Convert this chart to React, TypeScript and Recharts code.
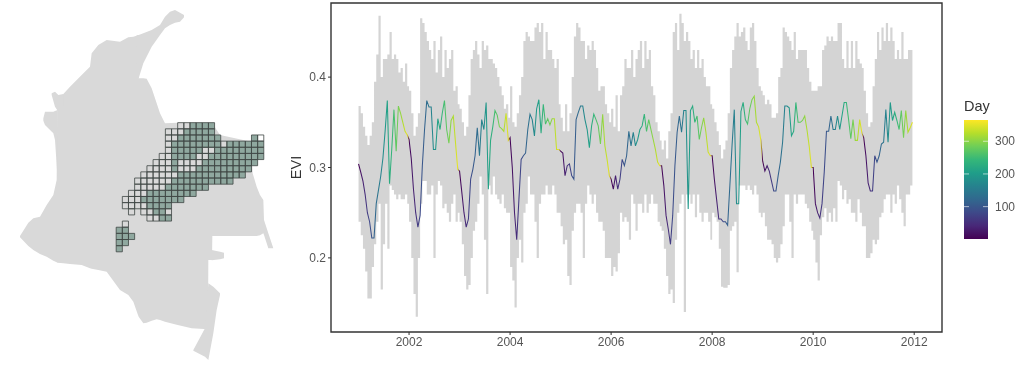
import React from "react";
import { ComposedChart, Area, Line, XAxis, YAxis, ReferenceArea } from "recharts";

// ---------- time series: 16-day composites per year ----------
const years = [2001, 2002, 2003, 2004, 2005, 2006, 2007, 2008, 2009, 2010, 2011];

const evi2001 = [.304,.295,.285,.27,.25,.24,.222,.222,.26,.275,.29,.31,.34,.374,.282,.32,.364,.318,.368,.36,.35,.34,.336];
const evi2002 = [.331,.31,.276,.25,.234,.247,.302,.342,.374,.367,.367,.32,.32,.354,.342,.36,.374,.342,.327,.352,.357,.327,.298];
const evi2003 = [.296,.273,.25,.234,.243,.287,.298,.313,.344,.313,.353,.342,.372,.276,.33,.345,.363,.358,.345,.343,.34,.36,.33];
const evi2004 = [.333,.30,.25,.22,.265,.309,.313,.316,.342,.359,.353,.335,.365,.375,.338,.37,.348,.354,.347,.354,.354,.32,.32];
const evi2005 = [.318,.316,.291,.302,.304,.291,.287,.353,.361,.368,.368,.353,.342,.322,.346,.359,.353,.346,.326,.359,.324,.309,.291];
const evi2006 = [.287,.276,.291,.276,.287,.309,.302,.313,.34,.324,.339,.324,.331,.342,.346,.359,.34,.353,.342,.331,.32,.306,.302];
const evi2007 = [.302,.28,.247,.232,.215,.247,.302,.339,.357,.339,.363,.363,.254,.363,.368,.35,.357,.331,.344,.355,.339,.317,.313];
const evi2008 = [.313,.287,.265,.243,.243,.24,.24,.236,.28,.325,.364,.26,.26,.362,.372,.353,.348,.365,.375,.379,.35,.345,.33];
const evi2009 = [.307,.296,.302,.296,.285,.274,.274,.291,.306,.328,.368,.368,.366,.335,.34,.372,.35,.35,.352,.357,.342,.324,.30];
const evi2010 = [.30,.26,.25,.244,.26,.295,.34,.34,.357,.342,.342,.357,.342,.357,.372,.372,.353,.332,.353,.33,.33,.353,.338];
const evi2011 = [.333,.313,.283,.274,.274,.313,.306,.313,.326,.328,.364,.328,.372,.352,.361,.352,.342,.363,.333,.363,.339,.344,.35];

const top2001 = [.368,.36,.345,.335,.325,.335,.35,.395,.425,.468,.4,.42,.42,.425,.45,.42,.425,.42,.405,.41,.395,.415,.39];
const top2002 = [.385,.36,.335,.345,.36,.465,.46,.45,.44,.43,.42,.44,.405,.43,.445,.40,.43,.41,.42,.43,.385,.39,.37];
const top2003 = [.365,.35,.335,.345,.38,.42,.43,.44,.425,.41,.44,.43,.435,.42,.42,.415,.41,.40,.39,.38,.365,.37,.355];
const top2004 = [.39,.35,.345,.36,.38,.40,.44,.45,.445,.44,.44,.455,.46,.45,.46,.42,.45,.43,.43,.42,.41,.42,.37];
const top2005 = [.355,.34,.37,.34,.36,.40,.445,.46,.455,.44,.44,.42,.435,.43,.44,.43,.41,.385,.39,.39,.37,.36,.35];
const top2006 = [.365,.345,.38,.34,.38,.39,.42,.41,.41,.43,.40,.42,.43,.44,.41,.44,.42,.43,.39,.38,.35,.34,.33];
const top2007 = [.32,.33,.31,.34,.36,.45,.46,.43,.47,.46,.44,.45,.44,.42,.43,.41,.43,.41,.42,.40,.39,.39,.37];
const top2008 = [.365,.35,.34,.325,.31,.32,.33,.36,.41,.43,.445,.46,.445,.45,.455,.44,.43,.455,.46,.44,.41,.39,.385];
const top2009 = [.38,.37,.375,.37,.355,.355,.36,.40,.41,.455,.45,.445,.44,.43,.45,.42,.43,.43,.43,.43,.41,.395,.385];
const top2010 = [.385,.385,.39,.39,.43,.435,.445,.44,.445,.44,.44,.46,.46,.42,.41,.44,.41,.44,.41,.44,.42,.415,.41];
const top2011 = [.385,.36,.345,.35,.39,.42,.45,.43,.455,.44,.46,.44,.455,.44,.42,.43,.42,.45,.42,.42,.43,.43,.41];

const low2001 = [.24,.225,.21,.185,.155,.155,.19,.215,.24,.26,.165,.215,.26,.21,.28,.275,.27,.265,.27,.265,.265,.27,.26];
const low2002 = [.24,.2,.16,.135,.2,.26,.285,.285,.27,.27,.28,.2,.27,.285,.28,.255,.26,.25,.24,.26,.27,.24,.25];
const low2003 = [.24,.215,.18,.165,.17,.2,.23,.24,.26,.29,.27,.22,.16,.28,.27,.29,.27,.265,.26,.27,.255,.25,.25];
const low2004 = [.19,.175,.145,.20,.22,.195,.25,.26,.29,.27,.27,.24,.20,.26,.27,.27,.28,.27,.27,.28,.27,.25,.25];
const low2005 = [.235,.215,.22,.18,.17,.23,.25,.26,.26,.25,.2,.26,.28,.27,.26,.27,.25,.24,.24,.23,.2,.2,.2];
const low2006 = [.18,.19,.185,.205,.25,.24,.245,.24,.22,.27,.26,.23,.26,.26,.25,.27,.25,.26,.27,.26,.26,.24,.235];
const low2007 = [.23,.21,.18,.16,.165,.15,.22,.25,.26,.27,.14,.27,.27,.26,.27,.245,.27,.25,.24,.25,.25,.24,.22];
const low2008 = [.25,.245,.24,.21,.168,.167,.167,.17,.23,.235,.24,.184,.28,.28,.28,.275,.28,.275,.27,.28,.27,.25,.245];
const low2009 = [.25,.235,.22,.22,.215,.2,.195,.2,.215,.235,.27,.27,.24,.20,.27,.26,.27,.27,.27,.26,.255,.24,.23];
const low2010 = [.22,.195,.175,.225,.245,.255,.24,.25,.24,.255,.24,.285,.28,.265,.275,.26,.265,.25,.25,.24,.265,.25,.235];
const low2011 = [.235,.2,.2,.205,.22,.215,.22,.245,.25,.265,.27,.27,.25,.27,.26,.28,.265,.25,.235,.27,.27,.28,.275];

const eviByYear = [evi2001, evi2002, evi2003, evi2004, evi2005, evi2006, evi2007, evi2008, evi2009, evi2010, evi2011];
const topByYear = [top2001, top2002, top2003, top2004, top2005, top2006, top2007, top2008, top2009, top2010, top2011];
const lowByYear = [low2001, low2002, low2003, low2004, low2005, low2006, low2007, low2008, low2009, low2010, low2011];

const xTicks = [2002, 2004, 2006, 2008, 2010, 2012];
const yTicks = [0.2, 0.3, 0.4];
const legendTicks = [100, 200, 300];

const viridis = ["#440154","#482878","#3e4989","#31688e","#26828e","#1f9e89","#35b779","#6ece58","#b5de2b","#fde725"];

function hexToRgb(h: string) {
  return [1, 3, 5].map((i) => parseInt(h.slice(i, i + 2), 16));
}
function dayColor(day: number) {
  const f = Math.max(0, Math.min(1, (day - 1) / 364)) * (viridis.length - 1);
  const i = Math.min(viridis.length - 2, Math.floor(f));
  const a = hexToRgb(viridis[i]);
  const b = hexToRgb(viridis[i + 1]);
  const c = a.map((v, k) => Math.round(v + (b[k] - v) * (f - i)));
  return `rgb(${c[0]},${c[1]},${c[2]})`;
}

const rows = years.flatMap((year, y) =>
  eviByYear[y].map((evi, i) => {
    const day = 1 + 16 * i;
    return { t: year + (day - 1) / 365, day, evi, band: [lowByYear[y][i], topByYear[y][i]] };
  })
);
const tMin = rows[0].t;
const tMax = rows[rows.length - 1].t;

// ---------- map: projected outline, one north/south edge per easting ----------
type Part = { e: number[]; n: number[]; s: number[] };
const mainland: Part = {
  e: [60,85,100,120,140,160,170,172,190,210,245,270,275,295,320,360,385,400,414,416,430,440,455,470,480,495,533,575,624,625,636,637,660,754,758,770,780,790,792,805,820],
  n: [708,668,655,650,615,585,540,300,282,260,225,200,160,135,120,125,112,110,106,235,235,236,265,310,340,370,368,368,370,370,370,370,405,425,520,560,585,600,660,700,745],
  s: [712,738,750,762,770,782,787,788,790,792,795,805,806,810,815,870,885,905,945,950,970,968,962,958,960,965,975,985,988,780,780,708,708,708,708,708,706,700,705,745,745],
};
const guajira: Part = {
  e: [410,416,430,455,480,495,510,525,540,552],
  n: [106,105,100,90,75,50,35,30,38,45],
  s: [235,235,190,140,105,85,75,68,65,52],
};
const chocoNorth: Part = {
  e: [130,135,160,165,173],
  n: [355,335,335,333,330],
  s: [362,375,400,420,540],
};
const uraba: Part = {
  e: [155,165,175,190],
  n: [280,275,285,282],
  s: [285,320,335,320],
};
const vaupes: Part = {
  e: [635,660,672],
  n: [750,755,758],
  s: [781,778,775],
};
const amazonTail: Part = {
  e: [580,615,625,640,650,660],
  n: [1050,985,850,860,870,880],
  s: [1052,1070,1080,1000,930,885],
};
const mapParts = [mainland, guajira, chocoNorth, uraba, vaupes, amazonTail];

// grid cells: [row, first column, last column]
const greenRuns = [
  [0,11,14],[1,10,14],[2,9,15],[2,21,21],[3,8,15],[3,17,22],[4,8,12],[4,15,22],[5,8,11],[5,14,22],
  [6,8,8],[6,13,21],[7,8,8],[7,12,20],[8,9,19],[9,8,17],[10,7,13],[11,4,11],[12,3,9],[13,4,7],[14,5,6],[15,6,7],
  [17,-1,0],[18,-1,1],[19,-1,0],[20,-1,-1],
];
const outlineRuns = [
  [0,9,14],[1,7,14],[2,7,15],[2,21,22],[3,7,22],[4,7,22],[5,6,22],[6,5,21],[7,4,20],[8,3,19],[9,2,17],[10,2,13],
  [11,1,11],[12,0,9],[13,0,7],[14,1,1],[14,3,7],[15,4,7],[16,0,0],[17,-1,0],[18,-1,1],[19,-1,0],[20,-1,-1],
];
const gridEast = 367;
const gridNorth = 368;
const gridStep = 18.45;

function cellsFrom(runs: number[][]) {
  return runs.flatMap(([r, a, b]) =>
    Array.from({ length: b - a + 1 }, (_, i) => ({ r, c: a + i }))
  );
}

const AXIS = "#4d4d4d";
const sans = "'Liberation Sans', Arial, sans-serif";

export default function App() {
  return (
    <div style={{ position: "absolute", left: 0, top: 0, width: 1024, height: 370, background: "#fff", fontFamily: sans, overflow: "hidden", filter: "blur(0.45px)" }}>
      <div style={{ position: "absolute", left: 0, top: 0 }}>
        <ComposedChart width={290} height={370} margin={{ top: 0, right: 0, bottom: 0, left: 0 }}>
          <XAxis type="number" dataKey="e" domain={[0, 870]} hide allowDataOverflow />
          <YAxis type="number" domain={[0, 1110]} reversed hide allowDataOverflow />
          {mapParts.map((p, k) => (
            <Area
              key={k}
              data={p.e.map((e, i) => ({ e, edge: [p.n[i], p.s[i]] }))}
              dataKey="edge"
              type="linear"
              fill="#d9d9d9"
              fillOpacity={1}
              stroke="none"
              isAnimationActive={false}
              dot={false}
              activeDot={false}
            />
          ))}
          {cellsFrom(greenRuns).map(({ r, c }) => (
            <ReferenceArea
              key={`g${r}_${c}`}
              x1={gridEast + c * gridStep}
              x2={gridEast + (c + 1) * gridStep}
              y1={gridNorth + r * gridStep}
              y2={gridNorth + (r + 1) * gridStep}
              fill="#8fa89f"
              fillOpacity={1}
              stroke="none"
            />
          ))}
          {cellsFrom(outlineRuns).map(({ r, c }) => (
            <ReferenceArea
              key={`o${r}_${c}`}
              x1={gridEast + c * gridStep}
              x2={gridEast + (c + 1) * gridStep}
              y1={gridNorth + r * gridStep}
              y2={gridNorth + (r + 1) * gridStep}
              fill="none"
              stroke="#3f4644"
              strokeWidth={0.8}
            />
          ))}
        </ComposedChart>
      </div>

      <div style={{ position: "absolute", left: 280, top: 0 }}>
        <ComposedChart width={680} height={370} data={rows} margin={{ top: 3, right: 18, bottom: 8, left: 11 }}>
          <defs>
            <linearGradient id="viridisDoy" x1="0" y1="0" x2="1" y2="0">
              {rows.map((d, i) => (
                <stop key={i} offset={(d.t - tMin) / (tMax - tMin)} stopColor={dayColor(d.day)} />
              ))}
            </linearGradient>
          </defs>
          <XAxis
            type="number"
            dataKey="t"
            domain={[2000.455, 2012.55]}
            ticks={xTicks}
            allowDataOverflow
            axisLine={false}
            height={30}
            tickSize={3}
            tick={{ fill: "#555", fontSize: 12, fontFamily: sans }}
            tickLine={{ stroke: "#333" }}
            tickFormatter={(v: number) => String(v)}
          />
          <YAxis
            type="number"
            domain={[0.118, 0.482]}
            ticks={yTicks}
            allowDataOverflow
            axisLine={false}
            width={40}
            tickSize={3}
            tick={{ fill: "#555", fontSize: 12, fontFamily: sans }}
            tickLine={{ stroke: "#333" }}
            tickFormatter={(v: number) => v.toFixed(1)}
            label={{ value: "EVI", angle: -90, position: "insideLeft", offset: 5, style: { fill: "#333", fontSize: 14.5, fontFamily: sans, textAnchor: "middle" } }}
          />
          <Area
            dataKey="band"
            type="stepAfter"
            fill="#d4d4d4"
            fillOpacity={1}
            stroke="none"
            isAnimationActive={false}
            dot={false}
            activeDot={false}
          />
          <Line
            dataKey="evi"
            type="linear"
            stroke="url(#viridisDoy)"
            strokeWidth={1.05}
            dot={false}
            activeDot={false}
            isAnimationActive={false}
          />
          <ReferenceArea x1={2000.455} x2={2012.55} y1={0.118} y2={0.482} fill="none" stroke="#333" strokeWidth={1.4} />
        </ComposedChart>
      </div>

      <svg width={70} height={150} style={{ position: "absolute", left: 954, top: 95 }} fontFamily={sans}>
        <defs>
          <linearGradient id="dayBar" x1="0" y1="1" x2="0" y2="0">
            {viridis.map((c, i) => (
              <stop key={i} offset={i / (viridis.length - 1)} stopColor={c} />
            ))}
          </linearGradient>
        </defs>
        <text x={10} y={16} fontSize={14.5} fill="#333">Day</text>
        <rect x={10} y={25} width={24} height={119} fill="url(#dayBar)" />
        {legendTicks.map((t) => {
          const y = 144 - ((t - 1) / 364) * 119;
          return (
            <g key={t}>
              <line x1={10} x2={15} y1={y} y2={y} stroke="#fff" strokeWidth={0.6} />
              <line x1={29} x2={34} y1={y} y2={y} stroke="#fff" strokeWidth={0.6} />
              <text x={41} y={y + 4} fontSize={12} fill="#555">{t}</text>
            </g>
          );
        })}
      </svg>
    </div>
  );
}
